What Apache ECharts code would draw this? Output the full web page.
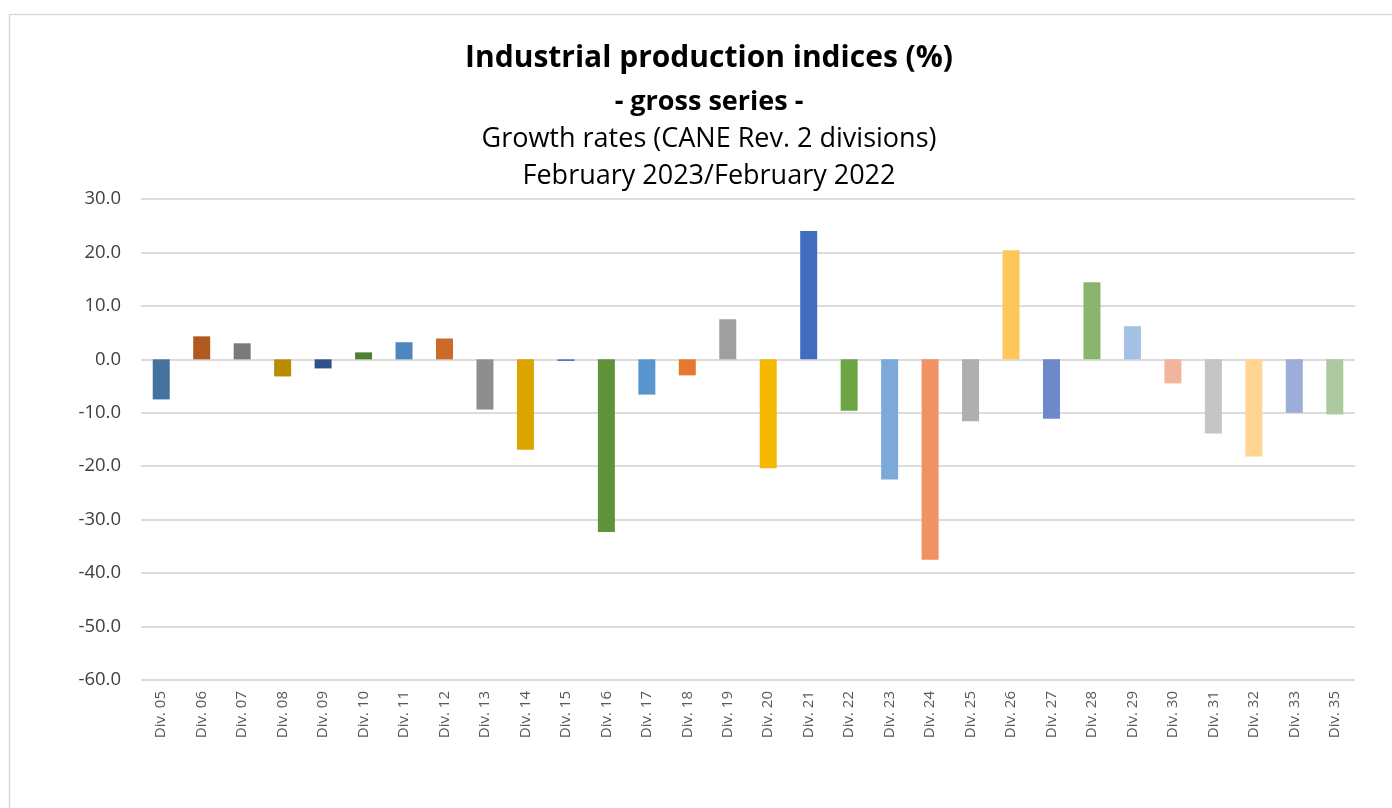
<!DOCTYPE html>
<html>
<head>
<meta charset="utf-8">
<script src="https://cdn.jsdelivr.net/npm/echarts@6/dist/echarts.min.js"></script>
<style>html,body{margin:0;padding:0;background:#fff;}#c{width:1392px;height:808px;}</style>
</head>
<body>
<div id="c"></div>
<script>
const categories = ['Div. 05','Div. 06','Div. 07','Div. 08','Div. 09','Div. 10','Div. 11','Div. 12','Div. 13','Div. 14','Div. 15','Div. 16','Div. 17','Div. 18','Div. 19','Div. 20','Div. 21','Div. 22','Div. 23','Div. 24','Div. 25','Div. 26','Div. 27','Div. 28','Div. 29','Div. 30','Div. 31','Div. 32','Div. 33','Div. 35'];
const values = [-7.5, 4.3, 3.0, -3.2, -1.7, 1.3, 3.2, 3.9, -9.4, -16.9, -0.3, -32.3, -6.6, -3.0, 7.5, -20.4, 24.0, -9.6, -22.5, -37.5, -11.6, 20.4, -11.1, 14.4, 6.2, -4.5, -13.9, -18.2, -10.0, -10.3];
const colors = ['#43729E','#B05A20','#7A7A7A','#BA8C00','#2F528F','#507E32','#4E86BD','#CB6A29','#8E8E8E','#DBA400','#4472C4','#60923B','#5996CF','#E47A30','#9F9F9F','#F4B800','#406DBD','#6CA543','#7CA9DA','#F09264','#AFAFAF','#FFC659','#6E89CB','#89B66C','#A4C0E4','#F3B49C','#C5C5C5','#FFD591','#9DADD9','#ADC99E'];
const titleLines = ['Industrial production indices (%)','- gross series -','Growth rates (CANE Rev. 2 divisions)','February 2023/February 2022'];

const chart = echarts.init(document.getElementById('c'), null, {renderer:'canvas'});
const font = '"Open Sans", sans-serif';
const cx = 704;
chart.setOption({
  animation: false,
  backgroundColor: '#fff',
  graphic: [{type:'rect', shape:{x:9.5,y:14.5,width:1420,height:820}, style:{fill:'none', stroke:'#d9d9d9', lineWidth:1.5}, silent:true}],
  title: [
    {text: titleLines[0], left: cx, textAlign: 'center', top: 38, textStyle:{fontFamily:font, fontSize:30, fontWeight:'bold', color:'#000'}},
    {text: titleLines[1], left: cx, textAlign: 'center', top: 84, textStyle:{fontFamily:font, fontSize:27, fontWeight:'bold', color:'#000'}},
    {text: titleLines[2], left: cx, textAlign: 'center', top: 121, textStyle:{fontFamily:font, fontSize:27, fontWeight:'normal', color:'#000'}},
    {text: titleLines[3], left: cx, textAlign: 'center', top: 158, textStyle:{fontFamily:font, fontSize:27, fontWeight:'normal', color:'#000'}}
  ],
  grid: {left: 141, right: 37, top: 199, bottom: 128, containLabel: false},
  xAxis: {
    type: 'category', data: categories, position: 'bottom',
    axisLine: {show: false, onZero: false},
    axisTick: {show: false},
    axisLabel: {rotate: 90, margin: 11, fontFamily: font, fontSize: 15, color: '#595959'},
    splitLine: {show: false}
  },
  yAxis: {
    type: 'value', min: -60, max: 30, interval: 10,
    axisLine: {show: false}, axisTick: {show: false},
    axisLabel: {formatter: v => v.toFixed(1), margin: 20, fontFamily: font, fontSize: 18.5, color: '#404040'},
    splitLine: {show: true, lineStyle: {color: '#dcdcdc', width: 2}}
  },
  series: [{
    type: 'bar', data: values.map((v,i)=>({value:v, itemStyle:{color:colors[i]}})),
    barWidth: 17
  }]
});
</script>
</body>
</html>
